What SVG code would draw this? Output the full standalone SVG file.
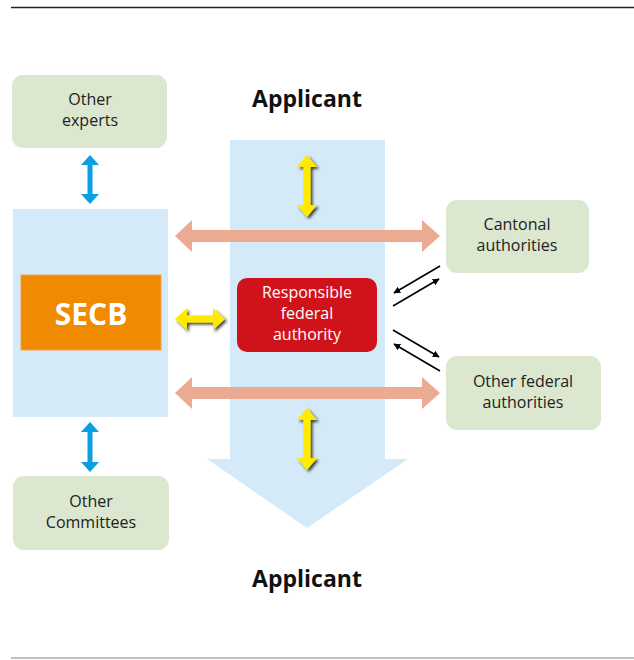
<svg xmlns="http://www.w3.org/2000/svg" width="634" height="660" viewBox="0 0 634 660">
  <style>
    .panel { fill: #d5eaf9; }
    .green { fill: #dbe7cf; }
    .lbl { font-family: "Open Sans", "Liberation Sans", sans-serif; font-size: 16px; fill: #222; text-anchor: middle; }
    .wlbl { font-family: "Open Sans", "Liberation Sans", sans-serif; font-size: 16px; fill: #ffffff; text-anchor: middle; }
    .title { font-family: "Open Sans", "Liberation Sans", sans-serif; font-size: 23px; font-weight: bold; fill: #111; text-anchor: middle; }
    .salmon { fill: #ebab93; }
    .blue { fill: #0a9fe0; }
    .yellow { fill: #ffea00; filter: url(#shadow); }
    .thin { stroke: #000; stroke-width: 1.6; fill: none; marker-end: url(#ah); }
  </style>
  <defs>
    <filter id="shadow" x="-50%" y="-50%" width="200%" height="200%">
      <feDropShadow dx="2" dy="2" stdDeviation="1.5" flood-color="#000" flood-opacity="0.75"/>
    </filter>
    <marker id="ah" viewBox="0 0 10 10" refX="9" refY="5" markerWidth="7" markerHeight="7" orient="auto" markerUnits="userSpaceOnUse">
      <path d="M0,0 L10,5 L0,10 z" fill="#000"/>
    </marker>
  </defs>

  <line x1="11" y1="7.5" x2="634" y2="7.5" stroke="#222" stroke-width="1.3"/>
  <line x1="11" y1="658" x2="634" y2="658" stroke="#aaa" stroke-width="1.3"/>

  <g id="applicant-flow">
    <polygon class="panel" points="230,140 385,140 385,459 408,459 307,528 207,459 230,459"/>
    <text class="title" x="307" y="107">Applicant</text>
    <text class="title" x="307" y="587">Applicant</text>
  </g>

  <g id="secb-panel">
    <rect class="panel" x="13" y="209" width="155" height="208"/>
  </g>

  <g id="secb">
    <rect x="21" y="275" width="140" height="75" fill="#f08a00" stroke="#f5a04a" stroke-width="1"/>
    <text x="91" y="325" font-family="'Open Sans', 'Liberation Sans', sans-serif" font-size="30" font-weight="bold" fill="#fff" text-anchor="middle">SECB</text>
  </g>

  <g id="other-experts">
    <rect class="green" x="12" y="75" width="155" height="73" rx="11"/>
    <text class="lbl" x="90" y="105">Other</text>
    <text class="lbl" x="90" y="126">experts</text>
  </g>

  <g id="other-committees">
    <rect class="green" x="13" y="476" width="156" height="74" rx="11"/>
    <text class="lbl" x="91" y="507">Other</text>
    <text class="lbl" x="91" y="528">Committees</text>
  </g>

  <g id="cantonal">
    <rect class="green" x="446" y="200" width="143" height="73" rx="11"/>
    <text class="lbl" x="517" y="230">Cantonal</text>
    <text class="lbl" x="517" y="251">authorities</text>
  </g>

  <g id="other-federal">
    <rect class="green" x="446" y="356" width="155" height="74" rx="11"/>
    <text class="lbl" x="523" y="387">Other federal</text>
    <text class="lbl" x="523" y="408">authorities</text>
  </g>

  <g id="connectors">
    <polygon class="salmon" points="175,236 192,220 192,230 422,230 422,220 440,236 422,252 422,242 192,242 192,252"/>
    <polygon class="salmon" points="175,393 192,377 192,387 422,387 422,377 440,393 422,409 422,399 192,399 192,409"/>
    <polygon class="blue" points="90,155 99,165 92.5,165 92.5,194 99,194 90,204 81,194 87.5,194 87.5,165 81,165"/>
    <polygon class="blue" points="90,422 99,432 92.5,432 92.5,462 99,462 90,472 81,462 87.5,462 87.5,432 81,432"/>
    <polygon class="yellow" points="307,155 317,167 310.5,167 310.5,205 317,205 307,217 297,205 303.5,205 303.5,167 297,167"/>
    <polygon class="yellow" points="307,408 317,420 310.5,420 310.5,458 317,458 307,470 297,458 303.5,458 303.5,420 297,420"/>
    <polygon class="yellow" points="175,319 187,308 187,315.5 213,315.5 213,308 225,319 213,330 213,322.5 187,322.5 187,330"/>
    <line class="thin" x1="440" y1="266" x2="394" y2="293"/>
    <line class="thin" x1="393" y1="306" x2="439" y2="279"/>
    <line class="thin" x1="393" y1="330" x2="439" y2="357"/>
    <line class="thin" x1="440" y1="371" x2="394" y2="344"/>
  </g>

  <g id="responsible-federal-authority">
    <rect x="237" y="278" width="140" height="74" rx="10" fill="#d0121b"/>
    <text class="wlbl" x="307" y="298">Responsible</text>
    <text class="wlbl" x="307" y="319">federal</text>
    <text class="wlbl" x="307" y="340">authority</text>
  </g>
</svg>
